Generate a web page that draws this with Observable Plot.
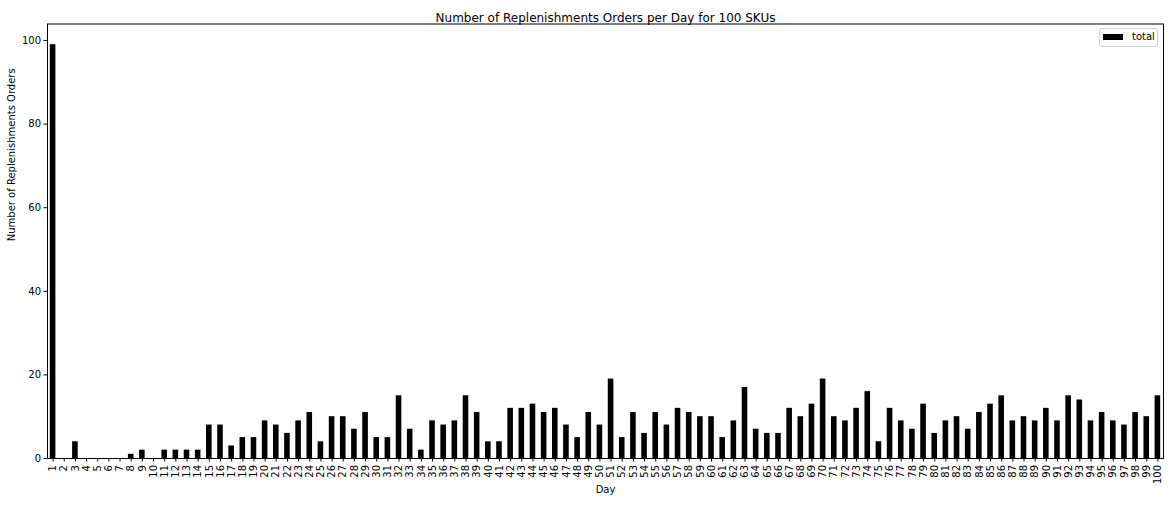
<!DOCTYPE html>
<html>
<head>
<meta charset="utf-8">
<script src="https://cdn.jsdelivr.net/npm/d3@7"></script>
<script src="https://cdn.jsdelivr.net/npm/@observablehq/plot@0.6"></script>
<style>
  body { margin: 0; background: #fff; font-family: "DejaVu Sans", sans-serif; }
  #wrap { position: relative; width: 1170px; height: 505px; }
  #legend { position: absolute; left: 1099px; top: 28px; width: 57px; height: 17px;
    border: 1px solid #d0d0d0; border-radius: 3px; background: #fff; font-size: 10px; color: #000; }
  #legend .sw { position: absolute; left: 3px; top: 5px; width: 20px; height: 6px; background: #000; }
  #legend .lb { position: absolute; left: 32px; top: 1px; line-height: 14px; }
</style>
</head>
<body>
<div id="wrap"><div id="legend"><div class="sw"></div><div class="lb">total</div></div></div>
<script>
const days = ["1","2","3","4","5","6","7","8","9","10","11","12","13","14","15","16","17","18","19","20",
  "21","22","23","24","25","26","27","28","29","30","31","32","33","34","35","36","37","38","39","40",
  "41","42","43","44","45","46","47","48","49","50","51","52","53","54","55","56","57","58","59","60",
  "61","62","63","64","65","66","67","68","69","70","71","72","73","74","75","76","77","78","79","80",
  "81","82","83","84","85","86","87","88","89","90","91","92","93","94","95","96","97","98","99","100"];
const totals = [99,0,4,0,0,0,0,1,2,0,
  2,2,2,2,8,8,3,5,5,9,
  8,6,9,11,4,10,10,7,11,5,
  5,15,7,2,9,8,9,15,11,4,
  4,12,12,13,11,12,8,5,11,8,
  19,5,11,6,11,8,12,11,10,10,
  5,9,17,7,6,6,12,10,13,19,
  10,9,12,16,4,12,9,7,13,6,
  9,10,7,11,13,15,9,10,9,12,
  9,15,14,9,11,9,8,11,10,15];
const yTicks = [0, 20, 40, 60, 80, 100];
const title = "Number of Replenishments Orders per Day for 100 SKUs";
const xLabel = "Day";
const yLabel = "Number of Replenishments Orders";

const data = days.map((d, i) => ({day: d, total: totals[i]}));

const chart = Plot.plot({
  width: 1170,
  height: 505,
  marginLeft: 47,
  marginRight: 7,
  marginTop: 23.5,
  marginBottom: 47,
  style: {fontFamily: "DejaVu Sans", fontSize: "10px", color: "#000", background: "#fff"},
  x: {domain: days, paddingInner: 0.5, paddingOuter: 0.25, round: false},
  y: {domain: [0, 103.95]},
  marks: [
    Plot.barY(data, {x: "day", y: "total", fill: "#000", inset: 0}),
    Plot.axisX({tickRotate: -90, tickSize: 3.5, tickPadding: 3, fontSize: 10, label: null}),
    Plot.axisY({ticks: yTicks, tickSize: 3.5, tickPadding: 3, fontSize: 10, label: null}),
    Plot.frame({stroke: "#000", strokeWidth: 1}),
    Plot.text([title], {frameAnchor: "top", dy: -10.5, fontSize: 12, fill: "#000"}),
    Plot.text([xLabel], {frameAnchor: "bottom", dy: 34, fontSize: 10, fill: "#000"}),
    Plot.text([yLabel], {frameAnchor: "left", dx: -36, rotate: -90, fontSize: 10, fill: "#000"})
  ]
});
document.getElementById("wrap").prepend(chart);
</script>
</body>
</html>
